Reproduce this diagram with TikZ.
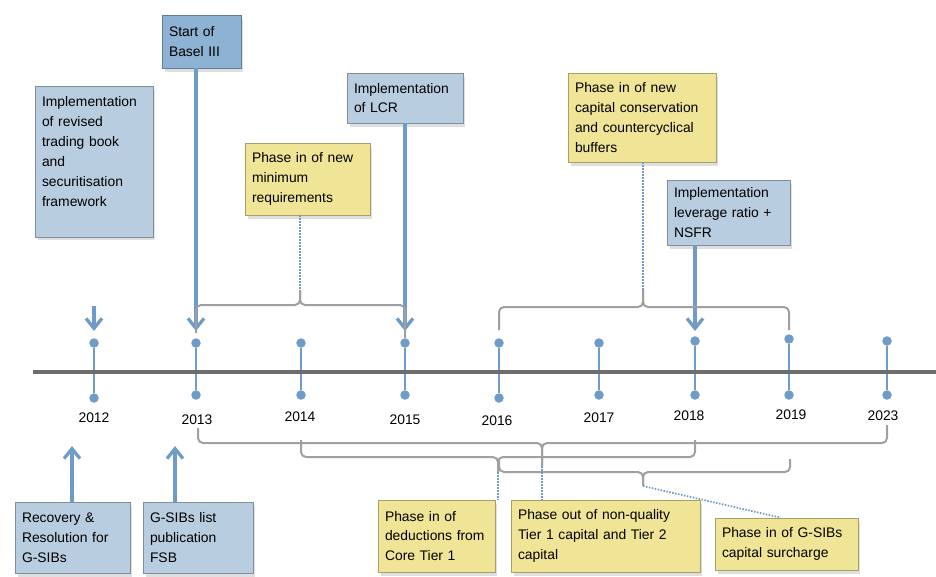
\documentclass[tikz,border=0pt]{standalone}
\usepackage{fontspec}
\setmainfont{Liberation Sans}
\usetikzlibrary{arrows.meta,shadows}

\definecolor{evblue}{HTML}{B9CDE1}
\definecolor{startblue}{HTML}{8EB2D4}
\definecolor{phaseyellow}{HTML}{F0E496}
\definecolor{markblue}{HTML}{6F9BC8}
\definecolor{axisgrey}{HTML}{6E6E6E}
\definecolor{bracegrey}{HTML}{A0A0A0}

\tikzset{
  event/.style={rectangle, draw=#1!70!black, fill=#1, line width=0.4pt,
    align=left, inner xsep=0.14cm, inner ysep=0.1cm,
    drop shadow={opacity=0.25, shadow xshift=0.05cm, shadow yshift=-0.07cm}},
  dot/.style={circle, fill=markblue, inner sep=0pt, minimum size=0.19cm},
  stem/.style={markblue, line width=0.045cm},
  pointer/.style={markblue, line width=0.065cm,
    -{Straight Barb[length=0.2cm, width=0.32cm]}},
  curly/.style={bracegrey, line width=0.04cm, rounded corners=0.1cm},
  hint/.style={markblue, line width=0.035cm, dash pattern=on 0.03cm off 0.03cm}
}

\begin{document}
\begin{tikzpicture}[x=0.02cm, y=-0.02cm, font=\fontsize{7.9}{11.3}\selectfont]
      \useasboundingbox (0,0) rectangle (936,576);

      % years
      \draw
        (94,418) node (y2012){2012}
        (197,420) node (y2013){2013}
        (300,417) node (y2014){2014}
        (405,420) node (y2015){2015}
        (497,421) node (y2016){2016}
        (599,418) node (y2017){2017}
        (689,416) node (y2018){2018}
        (791,415) node (y2019){2019}
        (883,416) node (y2023){2023};
      \path
        (94,343) node[dot] (t2012){}   (94,398) node[dot] (b2012){}
        (196,343) node[dot] (t2013){}  (196,395) node[dot] (b2013){}
        (301,343) node[dot] (t2014){}  (301,395) node[dot] (b2014){}
        (405,343) node[dot] (t2015){}  (405,395) node[dot] (b2015){}
        (499,343) node[dot] (t2016){}  (499,398) node[dot] (b2016){}
        (599,343) node[dot] (t2017){}  (599,395) node[dot] (b2017){}
        (695,341) node[dot] (t2018){}  (695,395) node[dot] (b2018){}
        (789,339) node[dot] (t2019){}  (789,395) node[dot] (b2019){}
        (887,341) node[dot] (t2023){}  (887,395) node[dot] (b2023){};
      \begin{scope}[stem]
        \draw (t2012) -- (b2012);
        \draw (t2013) -- (b2013);
        \draw (t2014) -- (b2014);
        \draw (t2015) -- (b2015);
        \draw (t2016) -- (b2016);
        \draw (t2017) -- (b2017);
        \draw (t2018) -- (b2018);
        \draw (t2019) -- (b2019);
        \draw (t2023) -- (b2023);
      \end{scope}
      \draw[axisgrey, line width=0.08cm] (33,372) -- (936,372);

      % events above the axis
      \node[event=startblue, minimum width=1.58cm, minimum height=1.06cm, text width=1.30cm]
        (basel) at (201.5,41.5) {Start of\\Basel III};
      \node[event=evblue, minimum width=2.36cm, minimum height=3.02cm, text width=2.08cm]
        (trading) at (94,161.5) {Implementation\\of revised\\trading book\\and\\securitisation\\framework\\ \mbox{}};
      \node[event=phaseyellow, minimum width=2.5cm, minimum height=1.44cm, text width=2.22cm]
        (minreq) at (307.5,179) {Phase in of new\\minimum\\requirements};
      \node[event=evblue, minimum width=2.32cm, minimum height=1.0cm, text width=2.04cm]
        (lcr) at (405,98) {Implementation\\of LCR};
      \node[event=phaseyellow, minimum width=2.96cm, minimum height=1.78cm, text width=2.68cm]
        (buffers) at (642,117.5) {Phase in of new\\capital conservation\\and countercyclical\\buffers};
      \node[event=evblue, minimum width=2.46cm, minimum height=1.3cm, text width=2.18cm]
        (leverage) at (728.5,212.5) {Implementation\\leverage ratio +\\NSFR};

      % events below the axis
      \node[event=evblue, minimum width=2.3cm, minimum height=1.42cm, text width=2.02cm]
        (recovery) at (72.5,537.5) {Recovery \&\\Resolution for\\G-SIBs};
      \node[event=evblue, minimum width=2.2cm, minimum height=1.42cm, text width=1.92cm]
        (gsiblist) at (198,537.5) {G-SIBs list\\publication\\FSB};
      \node[event=phaseyellow, minimum width=2.34cm, minimum height=1.44cm, text width=2.06cm]
        (deductions) at (436.5,536) {Phase in of\\deductions from\\Core Tier 1};
      \node[event=phaseyellow, minimum width=3.78cm, minimum height=1.44cm, text width=3.5cm]
        (phaseout) at (605.5,536) {Phase out of non-quality\\Tier 1 capital and Tier 2\\capital};
      \node[event=phaseyellow, minimum width=2.86cm, minimum height=1.04cm, text width=2.58cm]
        (surcharge) at (786.5,544) {Phase in of G-SIBs\\capital surcharge};

      % arrows
      \coordinate (s2012) at (94,306);
      \coordinate (a2012) at (94,331);
      \coordinate (a2013) at (196,331);
      \coordinate (a2015) at (405,331);
      \coordinate (a2018) at (695,331);
      \coordinate (u2012) at (72,446);
      \coordinate (u2013) at (175,446);
      \begin{scope}[pointer]
        \draw (s2012) -- (a2012);
        \draw (basel.south -| a2013) -- (a2013);
        \draw (lcr.south) -- (a2015);
        \draw (leverage.south -| a2018) -- (a2018);
        \draw (recovery.north -| u2012) -- (u2012);
        \draw (gsiblist.north -| u2013) -- (u2013);
      \end{scope}

      % brackets
      \coordinate (tipMin) at (300,290);
      \coordinate (tipBuf) at (643,290);
      \coordinate (tipOut) at (542,466);
      \coordinate (tipDed) at (498,472);
      \coordinate (tipSur) at (643,486);
      \begin{scope}[curly]
        \draw (196,333) -- (196,305) -- (300,305) -- (tipMin);
        \draw (405,338) -- (405,305) -- (300,305) -- (tipMin);
        \draw (499,330) -- (499,307) -- (643,307) -- (tipBuf);
        \draw (789,330) -- (789,307) -- (643,307) -- (tipBuf);
        \draw (198,428) -- (198,443) -- (542,443) -- (tipOut);
        \draw (887,425) -- (887,443) -- (542,443) -- (tipOut);
        \draw (301,440) -- (301,457) -- (498,457) -- (tipDed);
        \draw (695,440) -- (695,457) -- (498,457) -- (tipDed);
        \draw (499,459) -- (499,472) -- (643,472) -- (tipSur);
        \draw (790,459) -- (790,472) -- (643,472) -- (tipSur);
      \end{scope}
      \draw[hint] (minreq.south -| tipMin) -- (tipMin);
      \draw[hint] (buffers.south -| tipBuf) -- (tipBuf);
      \draw[hint] (tipDed) -- (deductions.north east -| tipDed);
      \draw[hint] (tipOut) -- (phaseout.north -| tipOut);
      \draw[hint] (tipSur) -- ([xshift=-0.12cm]surcharge.north);
    \end{tikzpicture}
\end{document}
